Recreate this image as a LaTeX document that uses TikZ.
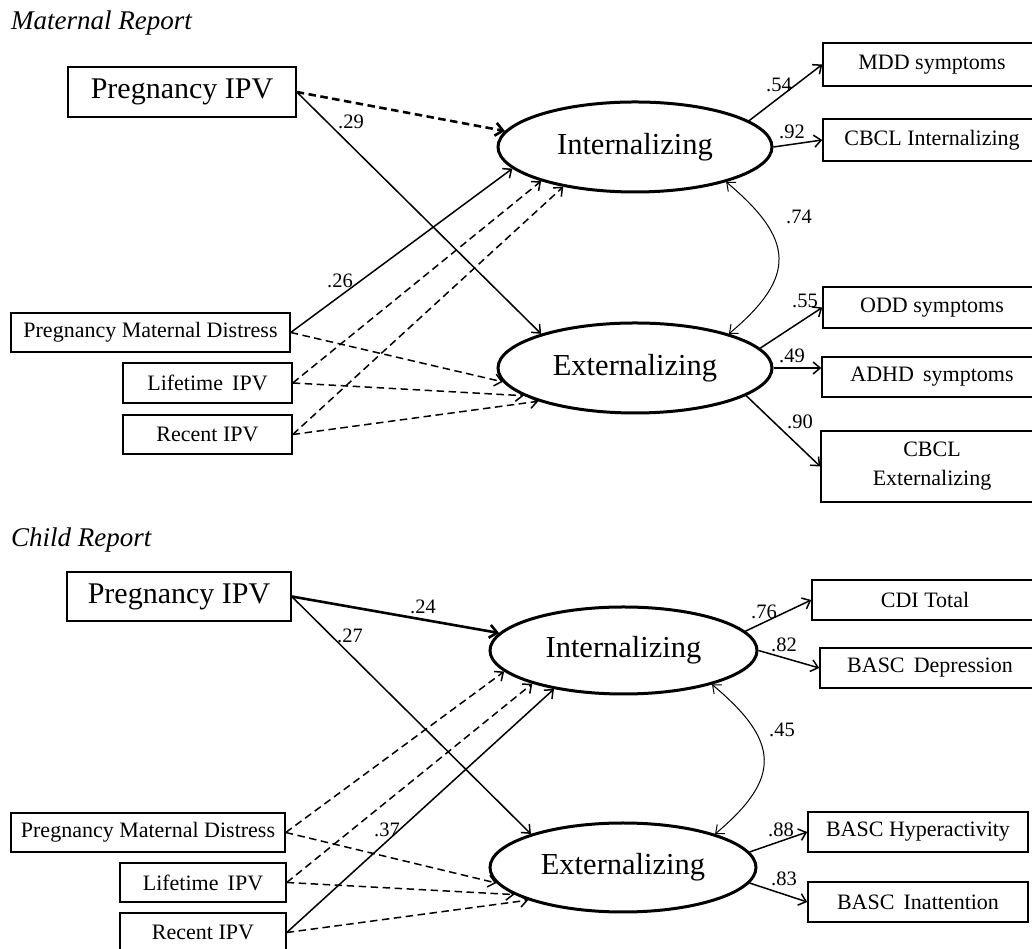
\documentclass[tikz,border=0pt]{standalone}
\usepackage{fontspec}
\setmainfont{Liberation Serif}
\usetikzlibrary{arrows.meta,shapes.geometric}
\tikzset{
  box/.style={draw, line width=1.5pt, inner sep=0pt, align=center},
  bigbox/.style={box, font=\fontsize{30}{34}\selectfont},
  smallbox/.style={box, font=\fontsize{22}{27}\selectfont},
  latent/.style={draw, ellipse, line width=3pt, inner sep=0pt, font=\fontsize{30.5}{34}\selectfont},
  arr/.style={line width=1.5pt, -{Straight Barb[length=7pt,width=12pt]}},
  thk/.style={line width=2.6pt, -{Straight Barb[length=7.5pt,width=13pt]}},
  ns/.style={dash pattern=on 7.5pt off 4.5pt},
  cov/.style={line width=1pt, {Straight Barb[length=7pt,width=12pt]}-{Straight Barb[length=7pt,width=12pt]}},
  lbl/.style={inner sep=0pt, font=\fontsize{20.5}{23}\selectfont},
  ttl/.style={inner sep=0pt, anchor=west, font=\fontsize{27}{31}\selectfont\itshape}
}
\begin{document}
\begin{tikzpicture}[x=1pt,y=1pt]
\useasboundingbox (0,0) rectangle (1032,949);
\clip (0,0) rectangle (1032,949);
\fill[white] (0,0) rectangle (1032,949);

% ---------------- Maternal Report ----------------
\node[ttl] (tM) at (11,926) {Maternal Report};

\node[bigbox, minimum width=228pt, minimum height=50pt] (pipvM) at (182,857) {Pregnancy IPV};
\node[smallbox, minimum width=279pt, minimum height=39pt] (pmdM) at (150.5,616.5) {Pregnancy Maternal Distress};
\node[smallbox, minimum width=169pt, minimum height=40pt] (lifeM) at (207.5,566) {Lifetime\, IPV};
\node[smallbox, minimum width=169pt, minimum height=39pt] (recM) at (207.5,514.5) {Recent IPV};

\node[latent, minimum width=274pt, minimum height=90pt] (intM) at (635,802) {Internalizing};
\node[latent, minimum width=274pt, minimum height=90pt] (extM) at (635,581) {Externalizing};

\node[smallbox, minimum width=218pt, minimum height=43pt] (mdd) at (932,884.5) {MDD symptoms};
\node[smallbox, minimum width=218pt, minimum height=42pt] (cbclI) at (932,809) {CBCL Internalizing};
\node[smallbox, minimum width=218pt, minimum height=41pt] (odd) at (932,641.5) {ODD symptoms};
\node[smallbox, minimum width=220pt, minimum height=40pt] (adhd) at (932,572) {ADHD\, symptoms};
\node[smallbox, minimum width=222pt, minimum height=71pt] (cbclE) at (932,482.5) {CBCL\\[2pt]Externalizing};

\draw[thk, ns] (pipvM.east) -- (intM.173);
\draw[arr] (pipvM.east) -- (extM.160);
\draw[arr] (pmdM.east) -- (intM.190);
\draw[arr, ns] (lifeM.east) -- (intM.200);
\draw[arr, ns] (recM.east) -- (intM.209);
\draw[arr, ns] (pmdM.east) -- (extM.186);
\draw[arr, ns] (lifeM.east) -- (extM.194);
\draw[arr, ns] (recM.east) -- (extM.199);

\draw[arr] (intM.13) -- (mdd.west);
\draw[arr] (intM.east) -- (cbclI.west);
\draw[arr] (extM.9) -- (odd.west);
\draw[arr] (extM.east) -- (extM.east -| adhd.west);
\draw[arr] (extM.346) -- (cbclE.west);
\draw[cov] (intM.339) to[out=-40,in=40,looseness=1.5] (extM.20);

\node[lbl] (l29) at (351,827) {.29};
\node[lbl] (l26) at (340,668) {.26};
\node[lbl] (l54) at (779,864) {.54};
\node[lbl] (l92) at (792,817) {.92};
\node[lbl] (l74) at (799,732) {.74};
\node[lbl] (l55) at (805,648) {.55};
\node[lbl] (l49) at (792,593) {.49};
\node[lbl] (l90) at (800,527) {.90};

% ---------------- Child Report ----------------
\node[ttl] (tC) at (11,409) {Child Report};

\node[bigbox, minimum width=224pt, minimum height=49pt] (pipvC) at (179,352.5) {Pregnancy IPV};
\node[smallbox, minimum width=274pt, minimum height=39pt] (pmdC) at (148,116.5) {Pregnancy Maternal Distress};
\node[smallbox, minimum width=166pt, minimum height=39pt] (lifeC) at (203,66.5) {Lifetime\, IPV};
\node[smallbox, minimum width=166pt, minimum height=39pt] (recC) at (203,16.5) {Recent IPV};

\node[latent, minimum width=267pt, minimum height=87pt] (intC) at (623.5,298.5) {Internalizing};
\node[latent, minimum width=266pt, minimum height=89pt] (extC) at (623,81.5) {Externalizing};

\node[smallbox, minimum width=226pt, minimum height=40pt] (cdi) at (925,349) {CDI Total};
\node[smallbox, minimum width=220pt, minimum height=40pt] (bascD) at (930,281) {BASC\, Depression};
\node[smallbox, minimum width=220pt, minimum height=40pt] (bascH) at (918,117) {BASC Hyperactivity};
\node[smallbox, minimum width=220pt, minimum height=40pt] (bascI) at (918,47) {BASC\, Inattention};

\draw[thk] (pipvC.east) -- (intC.172);
\draw[arr] (pipvC.east) -- (extC.160);
\draw[arr, ns] (pmdC.east) -- (intC.190);
\draw[arr, ns] (lifeC.east) -- (intC.200);
\draw[arr] (recC.east) -- (intC.209);
\draw[arr, ns] (pmdC.east) -- (extC.187);
\draw[arr, ns] (lifeC.east) -- (extC.194);
\draw[arr, ns] (recC.east) -- (extC.199);

\draw[arr] (intC.9) -- (cdi.west);
\draw[arr] (intC.east) -- (bascD.west);
\draw[arr] (extC.7) -- (bascH.west);
\draw[arr] (extC.353) -- (bascI.west);
\draw[cov] (intC.339) to[out=-40,in=40,looseness=1.5] (extC.20);

\node[lbl] (l24) at (423,342) {.24};
\node[lbl] (l27) at (350,313) {.27};
\node[lbl] (l37) at (387,119) {.37};
\node[lbl] (l76) at (764,337) {.76};
\node[lbl] (l82) at (784,304) {.82};
\node[lbl] (l45) at (782,219) {.45};
\node[lbl] (l88) at (781,119) {.88};
\node[lbl] (l83) at (784,70) {.83};
\end{tikzpicture}
\end{document}
